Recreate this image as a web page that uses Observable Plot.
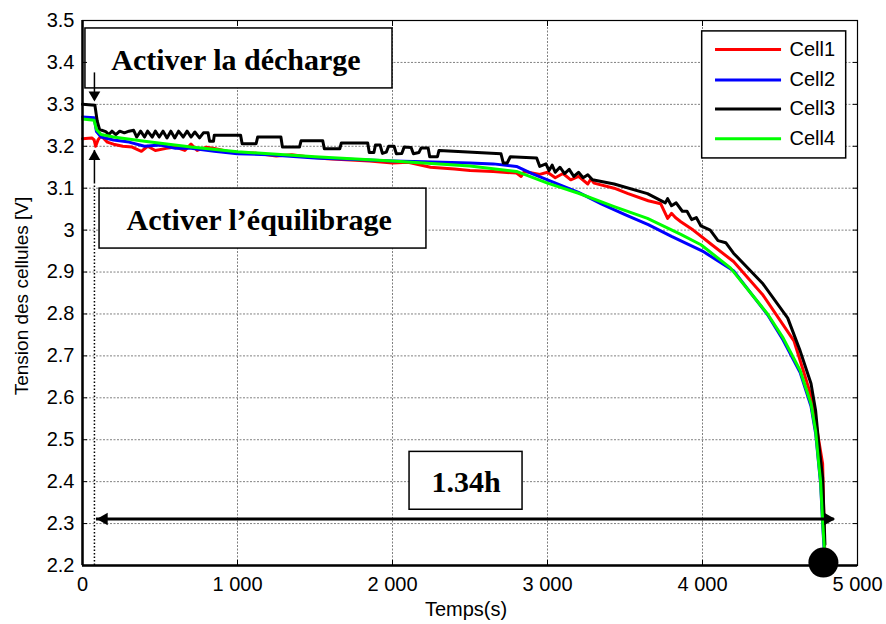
<!DOCTYPE html>
<html><head><meta charset="utf-8">
<script src="https://cdn.jsdelivr.net/npm/d3@7"></script>
<script src="https://cdn.jsdelivr.net/npm/@observablehq/plot@0.6"></script>
<style>body{margin:0;background:#fff} svg{display:block}</style>
</head><body><div id="chart"></div>
<script>
const seriesNames = ["Cell1", "Cell2", "Cell3", "Cell4"];
const seriesColors = ["#ff0000", "#0000ff", "#000000", "#00ff00"];

const cell1T = [0,60,75,85,100,120,160,200,260,320,380,420,470,540,600,660,700,740,800,850,1000,1100,1250,1350,1450,1580,1700,1850,2000,2100,2245,2400,2500,2650,2800,2830,2850,2950,3000,3050,3100,3150,3200,3260,3280,3300,3430,3520,3650,3730,3775,3800,3825,3860,3940,4050,4200,4390,4590,4650,4710,4740,4775,4788];
const cell1V = [3.218,3.22,3.215,3.200,3.215,3.225,3.21,3.205,3.200,3.198,3.188,3.200,3.190,3.195,3.198,3.190,3.205,3.190,3.198,3.195,3.183,3.184,3.177,3.180,3.175,3.170,3.168,3.165,3.160,3.162,3.150,3.146,3.142,3.140,3.136,3.128,3.140,3.133,3.138,3.125,3.135,3.120,3.128,3.110,3.122,3.112,3.100,3.087,3.070,3.063,3.028,3.040,3.030,3.020,3.000,2.968,2.925,2.845,2.736,2.665,2.593,2.521,2.443,2.240];

const cell2T = [0,75,90,120,200,300,400,500,600,700,850,1000,1200,1500,1800,2000,2200,2500,2650,2800,2900,3000,3100,3200,3350,3500,3650,3800,4000,4200,4420,4520,4630,4700,4730,4750,4762,4775,4786];
const cell2V = [3.270,3.268,3.235,3.222,3.215,3.210,3.200,3.203,3.195,3.195,3.188,3.182,3.180,3.172,3.168,3.165,3.163,3.160,3.158,3.152,3.135,3.120,3.105,3.090,3.062,3.037,3.013,2.985,2.950,2.903,2.798,2.738,2.660,2.580,2.515,2.440,2.395,2.300,2.230];

const cell3T = [0,80,95,110,150,170,190,215,240,270,300,330,350,375,400,420,450,470,495,520,545,570,595,620,650,675,700,725,755,780,810,820,845,850,1020,1030,1120,1130,1280,1290,1400,1410,1550,1560,1660,1670,1840,1850,1880,1890,1920,1935,1960,1975,2010,2025,2060,2075,2120,2135,2170,2185,2230,2240,2290,2300,2700,2715,2740,2760,2930,2950,2990,3010,3030,3050,3080,3110,3140,3170,3200,3230,3260,3290,3430,3645,3760,3775,3800,3830,3870,3900,3930,3960,3990,4050,4100,4150,4200,4390,4550,4630,4700,4730,4750,4775,4790];
const cell3V = [3.300,3.298,3.260,3.240,3.235,3.228,3.236,3.228,3.236,3.232,3.236,3.238,3.222,3.236,3.222,3.236,3.222,3.236,3.222,3.236,3.220,3.236,3.220,3.236,3.222,3.236,3.222,3.234,3.220,3.232,3.232,3.212,3.212,3.226,3.226,3.206,3.206,3.222,3.222,3.198,3.198,3.213,3.213,3.194,3.194,3.208,3.208,3.185,3.185,3.203,3.203,3.183,3.186,3.200,3.200,3.182,3.183,3.198,3.197,3.182,3.185,3.196,3.196,3.175,3.175,3.190,3.182,3.160,3.160,3.175,3.172,3.152,3.158,3.142,3.155,3.138,3.150,3.135,3.145,3.128,3.138,3.125,3.132,3.120,3.110,3.087,3.065,3.075,3.058,3.065,3.045,3.045,3.025,3.030,3.010,3.000,2.975,2.970,2.945,2.872,2.790,2.712,2.634,2.569,2.490,2.410,2.250];

const cell4T = [0,75,90,120,200,400,700,1000,1500,2000,2500,2800,3000,3200,3430,3645,3860,3990,4180,4420,4520,4630,4700,4730,4750,4762,4776,4786];
const cell4V = [3.265,3.262,3.240,3.228,3.222,3.212,3.198,3.187,3.175,3.165,3.153,3.140,3.112,3.088,3.056,3.028,2.990,2.965,2.910,2.800,2.743,2.665,2.586,2.521,2.443,2.400,2.300,2.240];

const xTicks = [0, 1000, 2000, 3000, 4000, 5000];
const xTickLabels = ["0", "1 000", "2 000", "3 000", "4 000", "5 000"];
const yTicks = [2.2, 2.3, 2.4, 2.5, 2.6, 2.7, 2.8, 2.9, 3.0, 3.1, 3.2, 3.3, 3.4, 3.5];
const yTickLabels = ["2.2","2.3","2.4","2.5","2.6","2.7","2.8","2.9","3","3.1","3.2","3.3","3.4","3.5"];

const xLabel = "Temps(s)";
const yLabel = "Tension des cellules [V]";
const noteDischarge = "Activer la décharge";
const noteBalance = "Activer l’équilibrage";
const noteDuration = "1.34h";

// build series tables
const allT = [cell1T, cell2T, cell3T, cell4T];
const allV = [cell1V, cell2V, cell3V, cell4V];
const series = seriesNames.map((name, k) => allT[k].map((t, i) => ({t, v: allV[k][i], name})));

// annotation geometry (data units)
const tEvent = 77;           // balancing / discharge activation time
const tEnd = 4780;           // end of discharge
const vSpan = 2.311;         // level of the 1.34h span arrow
const boxes = [
  {x1: 19, x2: 2000, y1: 3.338, y2: 3.481, text: noteDischarge, tx: 990, ty: 3.405},
  {x1: 110, x2: 2219, y1: 2.956, y2: 3.099, text: noteBalance, tx: 1140, ty: 3.023},
  {x1: 2110, x2: 2839, y1: 2.333, y2: 2.471, text: noteDuration, tx: 2474, ty: 2.398}
];
const legendRows = seriesNames.map((name, i) => ({name, color: seriesColors[i], y: [3.431, 3.358, 3.289, 3.218][i]}));
const legendBox = {x1: 3998, x2: 4927, y1: 3.171, y2: 3.474};

const serif = "'Liberation Serif', 'DejaVu Serif', serif";
const sans = "'Liberation Sans', Arial, sans-serif";
const gridStyle = {stroke: "#808080", strokeOpacity: 1, strokeWidth: 1, strokeDasharray: "2,1.5"};

const plot = Plot.plot({
  width: 886,
  height: 624,
  marginLeft: 82,
  marginRight: 29,
  marginTop: 20,
  marginBottom: 59,
  x: {domain: [0, 5000]},
  y: {domain: [2.2, 3.5]},
  color: {type: "identity"},
  style: {fontFamily: sans, fontSize: "20px", background: "white", color: "black", overflow: "visible"},
  marks: [
    Plot.gridX(xTicks, gridStyle),
    Plot.gridY(yTicks, gridStyle),
    ...series.map((rows, k) => Plot.line(rows, {x: "t", y: "v", stroke: seriesColors[k], strokeWidth: 3, strokeLinejoin: "round"})),
    // annotation boxes
    Plot.rect(boxes, {x1: "x1", x2: "x2", y1: "y1", y2: "y2", fill: "white", stroke: "black", strokeWidth: 1.5}),
    Plot.text(boxes, {x: "tx", y: "ty", text: "text", fontFamily: serif, fontWeight: "bold", fontSize: 30, fill: "black"}),
    // discharge arrow (down)
    Plot.ruleX([tEvent], {y1: 3.375, y2: 3.31, stroke: "black", strokeWidth: 1.5}),
    Plot.dot([{x: tEvent, y: 3.302}], {x: "x", y: "y", symbol: "triangle2", r: 5.6, fill: "black", stroke: null, rotate: 180, dy: -8.7}),
    // balance arrow (up) + dotted line
    Plot.ruleX([tEvent], {y1: 3.11, y2: 3.19, stroke: "black", strokeWidth: 1.5}),
    Plot.dot([{x: tEvent, y: 3.196}], {x: "x", y: "y", symbol: "triangle2", r: 5.6, fill: "black", stroke: null, rotate: 0, dy: 8.7}),
    Plot.ruleX([tEvent], {y1: 2.2, y2: 3.11, stroke: "black", strokeWidth: 1.5, strokeDasharray: "1.5,2"}),
    // span arrow
    Plot.ruleY([vSpan], {x1: 90, x2: 4850, stroke: "black", strokeWidth: 3}),
    Plot.dot([{x: 79, y: vSpan}], {x: "x", y: "y", symbol: "triangle2", r: 6, fill: "black", stroke: null, rotate: -90, dx: 9.3}),
    Plot.dot([{x: 4869, y: vSpan}], {x: "x", y: "y", symbol: "triangle2", r: 6, fill: "black", stroke: null, rotate: 90, dx: -9.3}),
    // end marker
    Plot.dot([{x: tEnd, y: 2.207}], {x: "x", y: "y", r: 15, fill: "black", stroke: null}),
    // legend
    Plot.rect([legendBox], {x1: "x1", x2: "x2", y1: "y1", y2: "y2", fill: "white", stroke: "black", strokeWidth: 1.5}),
    Plot.ruleY(legendRows, {y: "y", x1: 4084, x2: 4510, stroke: "color", strokeWidth: 3}),
    Plot.text(legendRows, {x: 4561, y: "y", text: "name", textAnchor: "start", fontSize: 20, fontFamily: sans, fill: "black"}),
    // axes
    Plot.axisX(xTicks, {tickSize: -5, tickPadding: 16, tickFormat: d => xTickLabels[xTicks.indexOf(d)], label: null, fontSize: 20}),
    Plot.axisY(yTicks, {tickSize: -5, tickPadding: 13, tickFormat: d => yTickLabels[yTicks.indexOf(d)], label: null, fontSize: 20}),
    Plot.axisX(xTicks, {anchor: "top", tickSize: -5, tickFormat: () => "", label: null}),
    Plot.axisY(yTicks, {anchor: "right", tickSize: -5, tickFormat: () => "", label: null}),
    Plot.frame({stroke: "black", strokeWidth: 1.2}),
    Plot.ruleX([0], {stroke: "black", strokeWidth: 2.5}),
    Plot.ruleY([2.2], {stroke: "black", strokeWidth: 2.5}),
    // axis titles
    Plot.text([xLabel], {frameAnchor: "bottom", lineAnchor: "middle", textAnchor: "middle", dy: 44, dx: -4, fontSize: 20, fontFamily: sans, fill: "black"}),
    Plot.text([yLabel], {frameAnchor: "left", lineAnchor: "middle", textAnchor: "middle", rotate: -90, dx: -61, dy: 3, fontSize: 19, fontFamily: sans, fill: "black"})
  ]
});
document.getElementById("chart").append(plot);
</script>
</body></html>
